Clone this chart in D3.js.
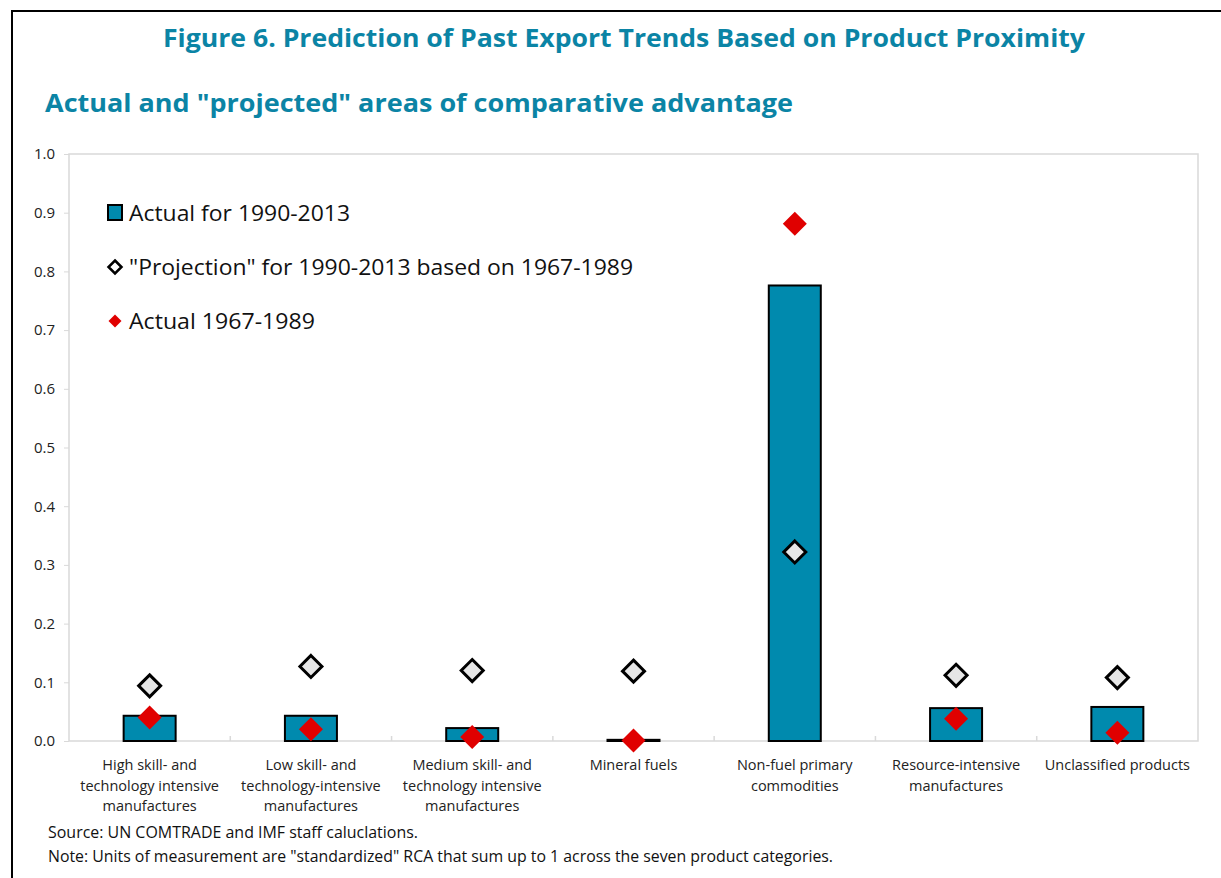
<!DOCTYPE html>
<meta charset="utf-8">
<script src="https://cdn.jsdelivr.net/npm/d3@7"></script>
<style>
body { margin: 0; background: #fff; }
text { font-family: "Open Sans", "Noto Sans", sans-serif; }
.title { fill: #0b84a5; font-weight: bold; }
.tick text { fill: #222; font-size: 15px; }
.cat { fill: #222; font-size: 14.5px; }
.legend text { fill: #111; font-size: 22px; }
.note { fill: #111; font-size: 15.5px; }
</style>
<svg width="1221" height="878"></svg>
<script>

var categories = [
    ["High skill- and", "technology intensive", "manufactures"],
    ["Low skill- and", "technology-intensive", "manufactures"],
    ["Medium skill- and", "technology intensive", "manufactures"],
    ["Mineral fuels"],
    ["Non-fuel primary", "commodities"],
    ["Resource-intensive", "manufactures"],
    ["Unclassified products"]
];
var actual9013 = [0.043, 0.043, 0.022, 0.002, 0.776, 0.056, 0.058];
var projection = [0.094, 0.127, 0.120, 0.119, 0.322, 0.112, 0.108];
var actual6789 = [0.040, 0.020, 0.007, 0.001, 0.881, 0.038, 0.014];
var yTicks = [0, 0.1, 0.2, 0.3, 0.4, 0.5, 0.6, 0.7, 0.8, 0.9, 1.0];
var legendLabels = ["Actual for 1990-2013", "\"Projection\" for 1990-2013 based on 1967-1989", "Actual 1967-1989"];

var svg = d3.select("svg");
var plot = {left: 69, right: 1198, top: 154, bottom: 741};

// outer frame
svg.append("rect")
    .attr("x", 12).attr("y", 11)
    .attr("width", 1240).attr("height", 900)
    .attr("fill", "none").attr("stroke", "#000").attr("stroke-width", 2);

svg.append("text").attr("class", "title")
    .attr("x", 624).attr("y", 47)
    .attr("text-anchor", "middle")
    .style("font-size", "25px")
    .attr("textLength", 922).attr("lengthAdjust", "spacingAndGlyphs")
    .text("Figure 6. Prediction of Past Export Trends Based on Product Proximity");

svg.append("text").attr("class", "title")
    .attr("x", 45).attr("y", 112)
    .style("font-size", "25px")
    .attr("textLength", 748).attr("lengthAdjust", "spacingAndGlyphs")
    .text("Actual and \"projected\" areas of comparative advantage");

var idx = d3.range(categories.length);
var x = d3.scaleBand().domain(idx).range([plot.left, plot.right]);
var y = d3.scaleLinear().domain([0, 1]).range([plot.bottom, plot.top]);

// plot border
svg.append("rect")
    .attr("x", plot.left).attr("y", plot.top)
    .attr("width", plot.right - plot.left).attr("height", plot.bottom - plot.top)
    .attr("fill", "none").attr("stroke", "#d9d9d9").attr("stroke-width", 1.5);

// y axis
var yAxis = svg.append("g")
    .attr("transform", "translate(" + plot.left + ",0)")
    .call(d3.axisLeft(y).tickValues(yTicks).tickFormat(d3.format(".1f")).tickSize(5).tickPadding(9));
yAxis.select(".domain").remove();
yAxis.selectAll(".tick line").attr("stroke", "#d9d9d9");

// x axis separators
var sep = svg.append("g");
sep.selectAll("line").data(d3.range(1, categories.length)).enter().append("line")
    .attr("x1", function(d) { return x(d); }).attr("x2", function(d) { return x(d); })
    .attr("y1", plot.bottom).attr("y2", plot.bottom - 5)
    .attr("stroke", "#d9d9d9").attr("stroke-width", 1.5);

// category labels
var cat = svg.append("g");
cat.selectAll("text").data(categories).enter().append("text")
    .attr("class", "cat")
    .attr("text-anchor", "middle")
    .attr("x", function(d, i) { return x(i) + x.bandwidth() / 2; })
    .attr("y", 770)
    .each(function(d) {
        var t = d3.select(this);
        d.forEach(function(line, j) {
            t.append("tspan")
                .attr("x", t.attr("x"))
                .attr("dy", j == 0 ? 0 : 20.5)
                .text(line);
        });
    });

// bars
var bw = 52;
svg.append("g").selectAll("rect").data(actual9013).enter().append("rect")
    .attr("x", function(d, i) { return x(i) + x.bandwidth() / 2 - bw / 2; })
    .attr("y", function(d) { return y(d); })
    .attr("width", bw)
    .attr("height", function(d) { return y(0) - y(d); })
    .attr("fill", "#008aae")
    .attr("stroke", "#000").attr("stroke-width", 2);

function diamond(r) {
    return "M0," + (-r) + "L" + r + ",0L0," + r + "L" + (-r) + ",0Z";
}

// projection diamonds
svg.append("g").selectAll("path").data(projection).enter().append("path")
    .attr("d", diamond(11))
    .attr("transform", function(d, i) { return "translate(" + (x(i) + x.bandwidth() / 2) + "," + y(d) + ")"; })
    .attr("fill", "#e6e6e6")
    .attr("stroke", "#000").attr("stroke-width", 3);

// actual 1967-1989 diamonds
svg.append("g").selectAll("path").data(actual6789).enter().append("path")
    .attr("d", diamond(12))
    .attr("transform", function(d, i) { return "translate(" + (x(i) + x.bandwidth() / 2) + "," + y(d) + ")"; })
    .attr("fill", "#e00000");

// legend
var legend = svg.append("g").attr("class", "legend");
var legendWidths = [221, 504, 186];
legend.append("rect")
    .attr("x", 108).attr("y", 205).attr("width", 14).attr("height", 15)
    .attr("fill", "#008aae").attr("stroke", "#000").attr("stroke-width", 2);
legend.append("path").attr("d", diamond(6.5))
    .attr("transform", "translate(115,267)")
    .attr("fill", "#fff").attr("stroke", "#000").attr("stroke-width", 2.5);
legend.append("path").attr("d", diamond(6.5))
    .attr("transform", "translate(115,321)")
    .attr("fill", "#e00000");
legend.selectAll("text").data(legendLabels).enter().append("text")
    .attr("x", 129)
    .attr("y", function(d, i) { return 221 + i * 54; })
    .attr("textLength", function(d, i) { return legendWidths[i]; })
    .attr("lengthAdjust", "spacingAndGlyphs")
    .text(function(d) { return d; });

// notes
svg.append("text").attr("class", "note").attr("x", 48).attr("y", 838)
    .attr("textLength", 370).attr("lengthAdjust", "spacingAndGlyphs")
    .text("Source: UN COMTRADE and IMF staff caluclations.");
svg.append("text").attr("class", "note").attr("x", 48).attr("y", 862)
    .attr("textLength", 785).attr("lengthAdjust", "spacingAndGlyphs")
    .text("Note: Units of measurement are \"standardized\" RCA that sum up to 1 across the seven product categories.");

</script>
